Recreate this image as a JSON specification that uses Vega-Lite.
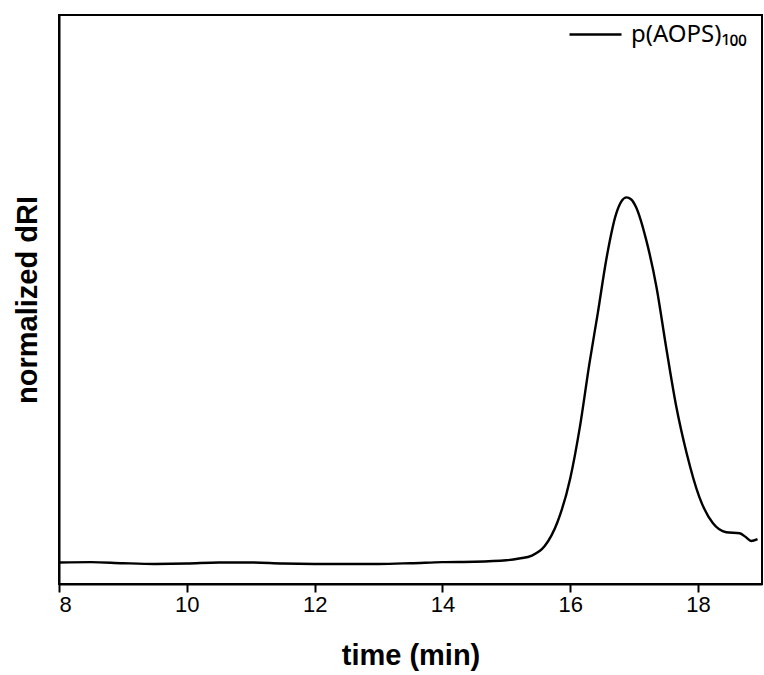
{
  "$schema": "https://vega.github.io/schema/vega-lite/v6.json",
  "autosize": "none",
  "width": 703,
  "height": 569,
  "padding": {"left": 59, "top": 15, "right": 2, "bottom": 91},
  "background": "white",
  "config": {
    "font": "Liberation Sans",
    "view": {"stroke": "black", "strokeWidth": 2},
    "axis": {"domainColor": "black", "domainWidth": 2, "tickColor": "black", "tickWidth": 2, "labelColor": "black", "titleColor": "black", "grid": false}
  },
  "data": {
    "values": [
      {"t": 8.0, "v": -0.001, "s": "p(AOPS)₁₀₀"},
      {"t": 8.5, "v": 0.0, "s": "p(AOPS)₁₀₀"},
      {"t": 9.0, "v": -0.003, "s": "p(AOPS)₁₀₀"},
      {"t": 9.5, "v": -0.005, "s": "p(AOPS)₁₀₀"},
      {"t": 10.0, "v": -0.004, "s": "p(AOPS)₁₀₀"},
      {"t": 10.5, "v": -0.001, "s": "p(AOPS)₁₀₀"},
      {"t": 11.0, "v": -0.001, "s": "p(AOPS)₁₀₀"},
      {"t": 11.5, "v": -0.004, "s": "p(AOPS)₁₀₀"},
      {"t": 12.0, "v": -0.005, "s": "p(AOPS)₁₀₀"},
      {"t": 12.5, "v": -0.005, "s": "p(AOPS)₁₀₀"},
      {"t": 13.0, "v": -0.005, "s": "p(AOPS)₁₀₀"},
      {"t": 13.5, "v": -0.003, "s": "p(AOPS)₁₀₀"},
      {"t": 14.0, "v": 0.0, "s": "p(AOPS)₁₀₀"},
      {"t": 14.5, "v": 0.001, "s": "p(AOPS)₁₀₀"},
      {"t": 15.0, "v": 0.005, "s": "p(AOPS)₁₀₀"},
      {"t": 15.2, "v": 0.01, "s": "p(AOPS)₁₀₀"},
      {"t": 15.4, "v": 0.018, "s": "p(AOPS)₁₀₀"},
      {"t": 15.6, "v": 0.044, "s": "p(AOPS)₁₀₀"},
      {"t": 15.8, "v": 0.11, "s": "p(AOPS)₁₀₀"},
      {"t": 16.0, "v": 0.23, "s": "p(AOPS)₁₀₀"},
      {"t": 16.15, "v": 0.37, "s": "p(AOPS)₁₀₀"},
      {"t": 16.3, "v": 0.545, "s": "p(AOPS)₁₀₀"},
      {"t": 16.43, "v": 0.682, "s": "p(AOPS)₁₀₀"},
      {"t": 16.57, "v": 0.836, "s": "p(AOPS)₁₀₀"},
      {"t": 16.72, "v": 0.956, "s": "p(AOPS)₁₀₀"},
      {"t": 16.8, "v": 0.989, "s": "p(AOPS)₁₀₀"},
      {"t": 16.88, "v": 1.0, "s": "p(AOPS)₁₀₀"},
      {"t": 16.95, "v": 0.995, "s": "p(AOPS)₁₀₀"},
      {"t": 17.03, "v": 0.973, "s": "p(AOPS)₁₀₀"},
      {"t": 17.19, "v": 0.882, "s": "p(AOPS)₁₀₀"},
      {"t": 17.35, "v": 0.753, "s": "p(AOPS)₁₀₀"},
      {"t": 17.5, "v": 0.589, "s": "p(AOPS)₁₀₀"},
      {"t": 17.66, "v": 0.425, "s": "p(AOPS)₁₀₀"},
      {"t": 17.82, "v": 0.299, "s": "p(AOPS)₁₀₀"},
      {"t": 18.02, "v": 0.178, "s": "p(AOPS)₁₀₀"},
      {"t": 18.23, "v": 0.107, "s": "p(AOPS)₁₀₀"},
      {"t": 18.44, "v": 0.082, "s": "p(AOPS)₁₀₀"},
      {"t": 18.65, "v": 0.079, "s": "p(AOPS)₁₀₀"},
      {"t": 18.75, "v": 0.068, "s": "p(AOPS)₁₀₀"},
      {"t": 18.83, "v": 0.058, "s": "p(AOPS)₁₀₀"},
      {"t": 18.93, "v": 0.063, "s": "p(AOPS)₁₀₀"}
    ]
  },
  "mark": {"type": "line", "interpolate": "monotone", "strokeWidth": 2.4},
  "encoding": {
    "x": {
      "field": "t", "type": "quantitative",
      "scale": {"domain": [8, 19], "nice": false, "zero": false},
      "axis": {"title": "time (min)", "values": [8, 10, 12, 14, 16, 18], "format": "d", "tickSize": 8, "labelFontSize": 22, "labelPadding": 2, "titleFontSize": 29, "titleFontWeight": "bold", "titlePadding": 26}
    },
    "y": {
      "field": "v", "type": "quantitative",
      "scale": {"domain": [-0.06, 1.5], "nice": false, "zero": false},
      "axis": {"title": "normalized dRI", "labels": false, "ticks": false, "titleFontSize": 29, "titleFontWeight": "bold", "titlePadding": 17}
    },
    "color": {
      "field": "s", "type": "nominal",
      "scale": {"range": ["black"]},
      "legend": {"title": null, "orient": "none", "legendX": 509, "legendY": -8, "symbolType": "stroke", "symbolSize": 2704, "symbolStrokeWidth": 2.4, "symbolStrokeColor": "black", "labelFont": "Noto Sans", "labelFontSize": 24, "labelColor": "black", "labelOffset": 8, "padding": 0, "labelLimit": 300}
    }
  }
}
